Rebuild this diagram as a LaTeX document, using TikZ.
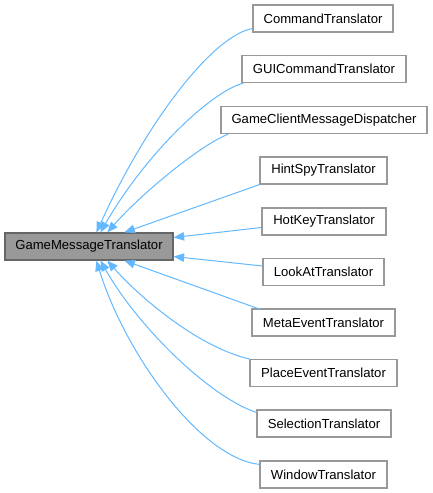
\documentclass[tikz,border=0pt]{standalone}
\usepackage{fontspec}
\setmainfont{Liberation Sans}
\usetikzlibrary{arrows.meta}
\definecolor{edgeblue}{HTML}{63B8FF}
\definecolor{mainfill}{HTML}{999999}
\definecolor{mainborder}{HTML}{666666}
\definecolor{childborder}{HTML}{999999}
\begin{document}
\begin{tikzpicture}[x=1pt,y=-1pt,
  box/.style={draw=childborder,fill=white,line width=1.2pt,minimum height=27pt,inner xsep=2pt,inner ysep=0pt,font=\fontsize{13.1}{14}\selectfont},
  mainbox/.style={box,draw=mainborder,fill=mainfill},
  inh/.style={draw=edgeblue,line width=1pt,-{Triangle[length=10.5pt,width=8.5pt]}}]
\useasboundingbox (0,0) rectangle (432,493);
\node[mainbox,minimum width=168pt] (main) at (89,246.5) {GameMessageTranslator};
\node[box,minimum width=140pt] (cmd) at (323,18.5) {CommandTranslator};
\node[box,minimum width=164pt] (gui) at (324,69) {GUICommandTranslator};
\node[box,minimum width=206pt] (gcmd) at (324,120) {GameClientMessageDispatcher};
\node[box,minimum width=127pt] (hint) at (323.5,170.5) {HintSpyTranslator};
\node[box,minimum width=124pt] (hot) at (324,221.5) {HotKeyTranslator};
\node[box,minimum width=121pt] (look) at (323.5,272) {LookAtTranslator};
\node[box,minimum width=143pt] (meta) at (323.5,322.5) {MetaEventTranslator};
\node[box,minimum width=147pt] (place) at (323.5,373) {PlaceEventTranslator};
\node[box,minimum width=134pt] (sel) at (324,423.5) {SelectionTranslator};
\node[box,minimum width=127pt] (win) at (323.5,474.5) {WindowTranslator};

\draw[inh] ([yshift=4pt]cmd.south west) .. controls (215,35) and (150,115) .. ([xshift=92pt]main.north west);
\draw[inh] ([xshift=2pt]gui.south west) .. controls (210,92) and (145,155) .. ([xshift=96pt]main.north west);
\draw[inh] ([xshift=8pt]gcmd.south west) .. controls (200,145) and (140,195) .. ([xshift=103pt]main.north west);
\draw[inh] (hint.south west) -- ([xshift=120pt]main.north west);
\draw[inh] ([yshift=-6pt]hot.west) -- ([yshift=9pt]main.east);
\draw[inh] ([yshift=6pt]look.west) -- ([yshift=-10pt]main.east);
\draw[inh] ([xshift=9pt,yshift=-1pt]meta.north west) -- ([xshift=120pt]main.south west);
\draw[inh] (place.north west) .. controls (200,348) and (140,298) .. ([xshift=103pt]main.south west);
\draw[inh] ([yshift=-3pt]sel.north west) .. controls (212,398) and (140,330) .. ([xshift=96pt]main.south west);
\draw[inh] ([yshift=-4pt]win.north west) .. controls (200,458) and (125,353) .. ([xshift=92pt]main.south west);
\end{tikzpicture}
\end{document}
